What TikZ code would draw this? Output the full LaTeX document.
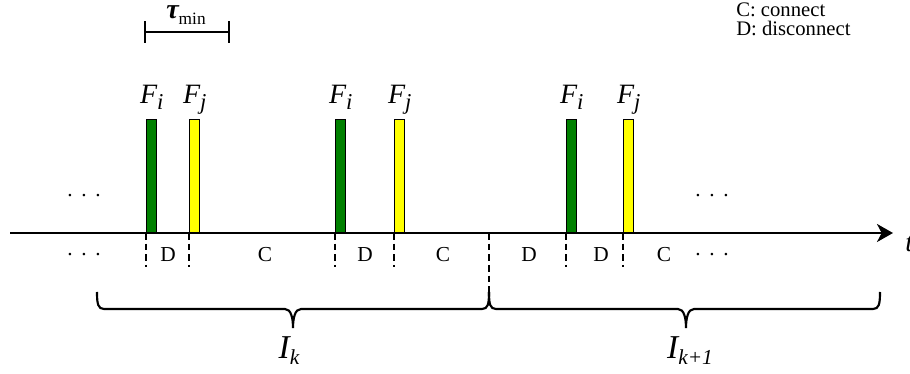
\documentclass[tikz,border=0pt]{standalone}
\usepackage{fontspec}
\setmainfont{Liberation Serif}
\usepackage{xcolor}
\usepackage{tikz}
\usetikzlibrary{arrows.meta, positioning, calc}
\definecolor{cGreen}{HTML}{008000}
\definecolor{cYellow}{HTML}{FFFF00}
\newcommand{\lowsub}[3]{\raisebox{-#1}{\fontsize{#2}{#2}\selectfont #3}}
\newcommand{\gapdots}{.\hspace{6.5pt}.\hspace{6.5pt}.}

\begin{document}
\begin{tikzpicture}[
    x=0.75pt, y=0.75pt,
    frame/.style={draw, line width=1.1pt, fill=#1, minimum width=7.5pt,
                  minimum height=84.75pt, inner sep=0pt, anchor=south west},
    slot/.style={dash pattern=on 5pt off 3pt, line width=0.9pt},
    axis/.style={-{Stealth[length=12pt, width=13.5pt, inset=3.5pt]}, line width=1.5pt},
    lbl/.style={font=\fontsize{16}{18}\selectfont, inner sep=0pt},
    leg/.style={font=\fontsize{15.5}{17}\selectfont, inner sep=0pt},
    fname/.style={font=\fontsize{21}{23}\selectfont\itshape, inner sep=0pt},
    iname/.style={font=\fontsize{25}{27}\selectfont\itshape, inner sep=0pt},
    brc/.style={line width=1.6pt},
  ]
  \useasboundingbox (0,0) rectangle (910,374);

  % ── TIME AXIS ──
  \coordinate (t0) at (10,141);
  \coordinate (t1) at (893,141);
  \draw[axis] (t0) -- (t1);
  \node[fname, anchor=base west] (tlbl) at (905,122) {t};

  % ── FRAMES ──
  \foreach \x/\c/\n/\s in {146/cGreen/fi1/i, 189/cYellow/fj1/j,
                           335/cGreen/fi2/i, 394/cYellow/fj2/j,
                           566/cGreen/fi3/i, 623/cYellow/fj3/j} {
    \node[frame=\c] (\n) at (\x,141) {};
    \node[fname, above=11pt of \n, anchor=base] (\n lbl) {F\lowsub{4.5pt}{17}{\s}};
    \draw[slot] (\n.south west) -- ++(0,-34);
  }

  % ── STATES ──
  \foreach \x/\s in {168/D, 265/C, 365/D, 443/C, 529/D, 601/D, 664/C}
    \node[lbl, anchor=base] (st\x) at (\x,112) {\s};

  \node[lbl, anchor=base] (dotsA) at (84,177) {\gapdots};
  \node[lbl, anchor=base] (dotsB) at (84,118) {\gapdots};
  \node[lbl, anchor=base] (dotsC) at (712,177) {\gapdots};
  \node[lbl, anchor=base] (dotsD) at (712,118) {\gapdots};

  % ── LEGEND ──
  \node[leg, anchor=base west] (legC) at (736,357) {C: connect};
  \node[leg, anchor=base west] (legD) at (736,338) {D: disconnect};

  % ── TAU MIN ──
  \coordinate (tauL) at (144,342);
  \coordinate (tauR) at (230,342);
  \draw[{Bar[width=16pt]}-{Bar[width=16pt]}, line width=1.2pt] (tauL) -- (tauR);
  \node[anchor=base, inner sep=0pt, font=\fontsize{21}{23}\selectfont] (taulbl) at (186,355)
    {\bfseries\itshape τ\mdseries\upshape\lowsub{4pt}{13}{min}};

  % ── INTERVALS ──
  \coordinate (split) at (489,141);
  \coordinate (bm) at (489,82);
  \draw[slot] (split) -- (bm);
  \coordinate (bl) at (97,82);
  \coordinate (br) at (880,82);
  \coordinate (tk) at (293,46);
  \coordinate (tk1) at (686,46);
  \draw[brc] (bl) .. controls +(0,-12) and +(-6,0) .. ($(bl)+(7,-17)$)
    -- ($(tk)+(-8,19)$) .. controls +(6,0) and +(0,10) .. (tk)
    .. controls +(0,10) and +(-6,0) .. ($(tk)+(8,19)$)
    -- ($(bm)+(-7,-17)$) .. controls +(6,0) and +(0,-12) .. (bm);
  \draw[brc] (bm) .. controls +(0,-12) and +(-6,0) .. ($(bm)+(7,-17)$)
    -- ($(tk1)+(-8,19)$) .. controls +(6,0) and +(0,10) .. (tk1)
    .. controls +(0,10) and +(-6,0) .. ($(tk1)+(8,19)$)
    -- ($(br)+(-7,-17)$) .. controls +(6,0) and +(0,-12) .. (br);

  \node[iname, anchor=base] (ik) at (289,15) {I\lowsub{4.5pt}{16}{k}};
  \node[iname, anchor=base] (ik1) at (690,15) {I\lowsub{4.5pt}{16}{k+1}};
\end{tikzpicture}
\end{document}
